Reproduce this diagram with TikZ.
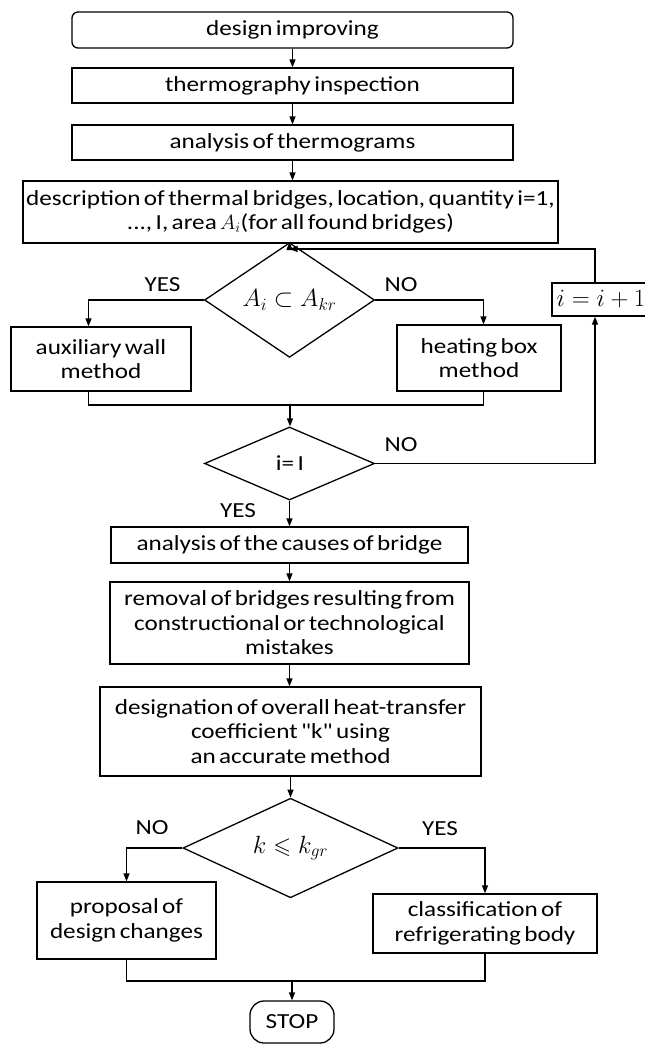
\documentclass[tikz,border=0pt]{standalone}
\usepackage{amssymb}
\usepackage{fontspec}
\setmainfont{Carlito}[FakeStretch=1.17,WordSpace=0.6,Ligatures=TeXOff]
\usetikzlibrary{shapes.geometric,arrows.meta}
\begin{document}
\begin{tikzpicture}[x=1pt,y=-1pt,
  every node/.style={font=\fontsize{21.5}{24.5}\selectfont},
  box/.style={draw,line width=1.3pt,inner sep=0pt,align=center},
  dia/.style={draw,diamond,line width=1.3pt,inner sep=0pt},
  lbl/.style={inner sep=0pt},
  arr/.style={line width=1.3pt,-{Triangle[length=8pt,width=6pt]}},
  ln/.style={line width=1.3pt}]
\useasboundingbox[fill=white] (0,0) rectangle (645,1044);

\node[box,rounded corners=6pt,minimum width=441pt,minimum height=36pt] (start) at (292.5,30) {design improving};
\node[box,minimum width=441pt,minimum height=35pt] (insp) at (292.5,85.5) {thermography inspection};
\node[box,minimum width=441pt,minimum height=35pt] (anal) at (292.5,142.5) {analysis of thermograms};
\node[box,minimum width=535pt,minimum height=62pt] (desc) at (290.5,212) {description of thermal bridges, location, quantity i=1,\\..., I, area $A_i$(for all found bridges)};
\node[dia,minimum width=170pt,minimum height=74pt] (d1) at (289.5,300) {\fontsize{23}{24}\selectfont$A_i\subset A_{kr}$};
\node[box,minimum width=180pt,minimum height=64pt] (aux) at (101,359) {auxiliary wall\\method};
\node[box,minimum width=164pt,minimum height=66pt] (heat) at (479,358) {heating box\\method};
\node[box,minimum width=98pt,minimum height=33pt] (inc) at (601,299.5) {\fontsize{23}{24}\selectfont$i=i+1$};
\node[dia,minimum width=170pt,minimum height=73pt] (d2) at (289.5,463.5) {i=\,$\mathrm{I}$};
\node[box,minimum width=357pt,minimum height=36pt] (causes) at (289.5,545) {analysis of the causes of bridge};
\node[box,minimum width=359pt,minimum height=82pt] (removal) at (289.5,623) {removal of bridges resulting from\\constructional or technological\\mistakes};
\node[box,minimum width=381pt,minimum height=89pt] (desig) at (290.5,731.5) {designation of overall heat-transfer\\coefficient "k" using\\an accurate method};
\node[dia,minimum width=215pt,minimum height=98pt] (d3) at (290.5,848) {\fontsize{23}{24}\selectfont$k\leqslant k_{gr}$};
\node[box,minimum width=179pt,minimum height=77pt] (prop) at (126.5,920.5) {proposal of\\design changes};
\node[box,minimum width=224pt,minimum height=59pt] (class) at (485,923.5) {classification of\\refrigerating body};
\node[box,rounded corners=14pt,minimum width=84pt,minimum height=42pt] (stop) at (292,1022) {STOP};

\node[lbl] (yes1) at (162.5,285) {YES};
\node[lbl] (no1) at (401,285) {NO};
\node[lbl] (no2) at (401,445) {NO};
\node[lbl] (yes2) at (238,511) {YES};
\node[lbl] (no3) at (152,828) {NO};
\node[lbl] (yes3) at (440,829) {YES};

\coordinate (bl) at (88.5,0);
\coordinate (br) at (483.5,0);
\coordinate (rx) at (595,0);
\coordinate (j1) at (289.5,249);
\coordinate (m1) at (290,405);
\coordinate (m2) at (292,981);

\draw[arr] (start.south) -- (start.south |- insp.north);
\draw[arr] (insp.south) -- (insp.south |- anal.north);
\draw[arr] (anal.south) -- (anal.south |- desc.north);
\draw[arr] (desc.south -| d1.north) -- (d1.north);
\draw[arr] (inc.north -| rx) |- (j1);
\draw[arr] (d1.west) -| (bl |- aux.north);
\draw[arr] (d1.east) -| (br |- heat.north);
\draw[ln] (aux.south -| bl) |- (m1) -| (heat.south -| br);
\draw[arr] (m1) -- (m1 |- d2.north);
\draw[arr] (d2.east) -| (inc.south -| rx);
\draw[arr] (d2.south) -- (d2.south |- causes.north);
\draw[arr] (causes.south) -- (causes.south |- removal.north);
\draw[arr] (removal.south) -- (removal.south |- desig.north);
\draw[arr] (desig.south -| d3.north) -- (d3.north);
\draw[arr] (d3.west) -| (prop.north);
\draw[arr] (d3.east) -| (class.north);
\draw[ln] (prop.south) |- (m2) -| (class.south);
\draw[arr] (m2) -- (stop.north);
\end{tikzpicture}
\end{document}
